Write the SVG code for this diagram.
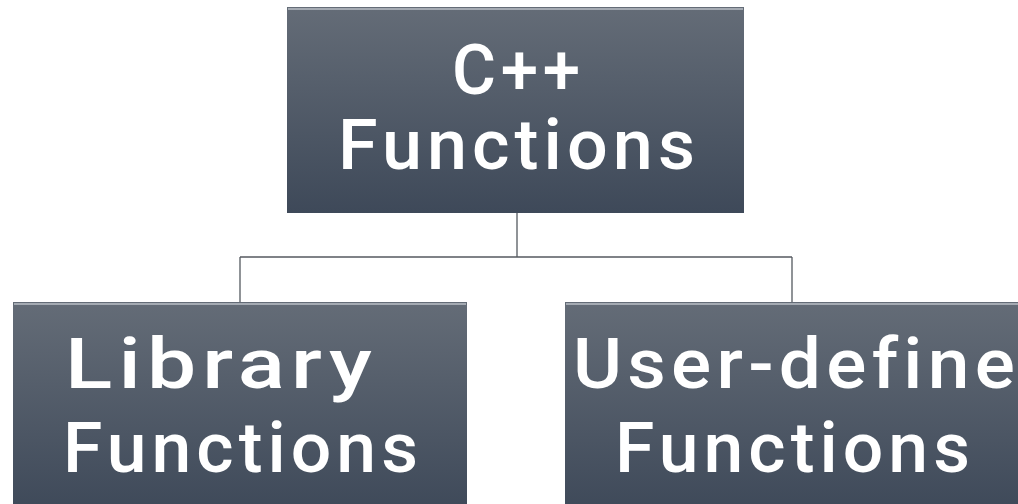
<svg xmlns="http://www.w3.org/2000/svg" width="1018" height="504" viewBox="0 0 1018 504">
<defs>
<linearGradient id="g" x1="0" y1="0" x2="0" y2="1">
<stop offset="0" stop-color="#646c77"/>
<stop offset="1" stop-color="#3e4959"/>
</linearGradient>
<style>
.box{fill:url(#g);}
.bev{stroke:#a4aab2;stroke-width:2;fill:none;}
.lbl{font-family:Roboto,"Liberation Sans",sans-serif;font-weight:500;font-size:71px;fill:#ffffff;text-anchor:start;font-variant-ligatures:none;letter-spacing:5px;}
.con{stroke:#555a60;stroke-width:1.3;fill:none;}
</style>
</defs>
<rect width="1018" height="504" fill="#ffffff"/>
<g id="connectors">
<path class="con" d="M517 213 V257 M240 257 H792 M240 257 V302 M792 257 V302"/>
</g>
<g id="node-cpp">
<rect class="box" x="287" y="7" width="457" height="206"/>
<path class="bev" d="M288 9 H743"/>
<text class="lbl" x="452" y="94" textLength="133" lengthAdjust="spacingAndGlyphs">C++</text>
<text class="lbl" x="338" y="169" textLength="362" lengthAdjust="spacingAndGlyphs">Functions</text>
</g>
<g id="node-library">
<rect class="box" x="13" y="302" width="454" height="210"/>
<path class="bev" d="M14 304 H466"/>
<text class="lbl" x="65" y="388" textLength="313" lengthAdjust="spacingAndGlyphs">Library</text>
<text class="lbl" x="63" y="472" textLength="360" lengthAdjust="spacingAndGlyphs">Functions</text>
</g>
<g id="node-user">
<rect class="box" x="565" y="302" width="460" height="210"/>
<path class="bev" d="M566 304 H1018"/>
<text class="lbl" x="573" y="388" textLength="447" lengthAdjust="spacingAndGlyphs">User-define</text>
<text class="lbl" x="615" y="472" textLength="360" lengthAdjust="spacingAndGlyphs">Functions</text>
</g>
</svg>
